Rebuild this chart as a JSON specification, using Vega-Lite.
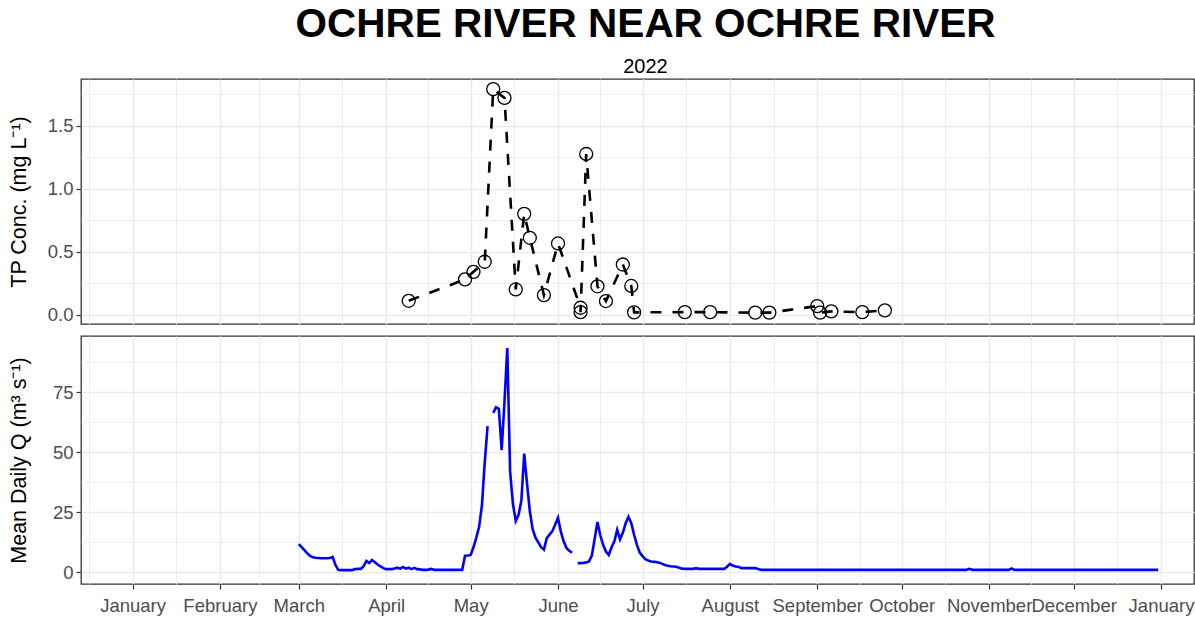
{
  "$schema": "https://vega.github.io/schema/vega-lite/v6.json",
  "background": "white",
  "padding": {"left": 7, "top": 4, "right": 0, "bottom": 0},
  "title": {
    "text": "OCHRE RIVER NEAR OCHRE RIVER",
    "subtitle": "2022",
    "font": "Liberation Sans",
    "fontSize": 40.5,
    "fontWeight": "bold",
    "color": "#000000",
    "subtitleFont": "Liberation Sans",
    "subtitleFontSize": 20,
    "subtitleColor": "#000000",
    "subtitlePadding": 12,
    "anchor": "middle",
    "frame": "group",
    "dx": 8,
    "offset": 1
  },
  "config": {
    "font": "Liberation Sans",
    "view": {"stroke": "#333333", "strokeWidth": 1.3},
    "axis": {
      "labelFont": "Liberation Sans",
      "labelFontSize": 18.5,
      "labelColor": "#4D4D4D",
      "titleFont": "Liberation Sans",
      "titleFontSize": 21.5,
      "titleFontWeight": "normal",
      "titleColor": "#000000",
      "tickColor": "#333333",
      "tickWidth": 1.2,
      "tickSize": 5,
      "domain": false,
      "gridColor": "#EBEBEB",
      "labelOverlap": false,
      "labelFlush": false,
      "labelBound": false
    }
  },
  "datasets": {
    "tp": [
      {"date": "2022-04-09T00:00", "tp": 0.11},
      {"date": "2022-04-29T00:00", "tp": 0.28},
      {"date": "2022-05-02T00:00", "tp": 0.34},
      {"date": "2022-05-06T00:00", "tp": 0.42},
      {"date": "2022-05-09T00:00", "tp": 1.79},
      {"date": "2022-05-13T00:00", "tp": 1.72},
      {"date": "2022-05-17T00:00", "tp": 0.2},
      {"date": "2022-05-20T00:00", "tp": 0.8},
      {"date": "2022-05-22T00:00", "tp": 0.61},
      {"date": "2022-05-27T00:00", "tp": 0.155},
      {"date": "2022-06-01T00:00", "tp": 0.565},
      {"date": "2022-06-09T00:00", "tp": 0.055},
      {"date": "2022-06-09T00:00", "tp": 0.02},
      {"date": "2022-06-11T00:00", "tp": 1.275},
      {"date": "2022-06-15T00:00", "tp": 0.225},
      {"date": "2022-06-18T00:00", "tp": 0.108},
      {"date": "2022-06-24T00:00", "tp": 0.398},
      {"date": "2022-06-27T00:00", "tp": 0.228},
      {"date": "2022-06-28T00:00", "tp": 0.018},
      {"date": "2022-07-16T00:00", "tp": 0.02},
      {"date": "2022-07-25T00:00", "tp": 0.02},
      {"date": "2022-08-10T00:00", "tp": 0.016},
      {"date": "2022-08-15T00:00", "tp": 0.016},
      {"date": "2022-09-01T00:00", "tp": 0.068},
      {"date": "2022-09-02T00:00", "tp": 0.016},
      {"date": "2022-09-06T00:00", "tp": 0.026},
      {"date": "2022-09-17T00:00", "tp": 0.02},
      {"date": "2022-09-25T00:00", "tp": 0.034}
    ],
    "q": [
      {"date": "2022-03-01T00:00", "q": 11.8, "seg": 1},
      {"date": "2022-03-02T00:00", "q": 10.6, "seg": 1},
      {"date": "2022-03-03T00:00", "q": 9.3, "seg": 1},
      {"date": "2022-03-04T00:00", "q": 8.0, "seg": 1},
      {"date": "2022-03-05T00:00", "q": 6.9, "seg": 1},
      {"date": "2022-03-06T00:00", "q": 6.3, "seg": 1},
      {"date": "2022-03-07T00:00", "q": 6.1, "seg": 1},
      {"date": "2022-03-08T00:00", "q": 6.0, "seg": 1},
      {"date": "2022-03-09T00:00", "q": 5.9, "seg": 1},
      {"date": "2022-03-10T00:00", "q": 5.9, "seg": 1},
      {"date": "2022-03-11T00:00", "q": 5.9, "seg": 1},
      {"date": "2022-03-12T00:00", "q": 6.0, "seg": 1},
      {"date": "2022-03-13T00:00", "q": 6.5, "seg": 1},
      {"date": "2022-03-14T00:00", "q": 3.2, "seg": 1},
      {"date": "2022-03-15T00:00", "q": 1.1, "seg": 1},
      {"date": "2022-03-16T00:00", "q": 1.0, "seg": 1},
      {"date": "2022-03-17T00:00", "q": 1.0, "seg": 1},
      {"date": "2022-03-18T00:00", "q": 1.0, "seg": 1},
      {"date": "2022-03-19T00:00", "q": 1.0, "seg": 1},
      {"date": "2022-03-20T00:00", "q": 1.0, "seg": 1},
      {"date": "2022-03-21T00:00", "q": 1.4, "seg": 1},
      {"date": "2022-03-22T00:00", "q": 1.5, "seg": 1},
      {"date": "2022-03-23T00:00", "q": 1.5, "seg": 1},
      {"date": "2022-03-24T00:00", "q": 2.6, "seg": 1},
      {"date": "2022-03-25T00:00", "q": 4.8, "seg": 1},
      {"date": "2022-03-26T00:00", "q": 3.9, "seg": 1},
      {"date": "2022-03-27T00:00", "q": 5.2, "seg": 1},
      {"date": "2022-03-28T00:00", "q": 4.3, "seg": 1},
      {"date": "2022-03-29T00:00", "q": 3.3, "seg": 1},
      {"date": "2022-03-30T00:00", "q": 2.5, "seg": 1},
      {"date": "2022-03-31T00:00", "q": 1.8, "seg": 1},
      {"date": "2022-04-01T00:00", "q": 1.4, "seg": 1},
      {"date": "2022-04-02T00:00", "q": 1.4, "seg": 1},
      {"date": "2022-04-03T00:00", "q": 1.4, "seg": 1},
      {"date": "2022-04-04T00:00", "q": 1.7, "seg": 1},
      {"date": "2022-04-05T00:00", "q": 2.0, "seg": 1},
      {"date": "2022-04-06T00:00", "q": 1.6, "seg": 1},
      {"date": "2022-04-07T00:00", "q": 2.3, "seg": 1},
      {"date": "2022-04-08T00:00", "q": 1.6, "seg": 1},
      {"date": "2022-04-09T00:00", "q": 2.0, "seg": 1},
      {"date": "2022-04-10T00:00", "q": 1.4, "seg": 1},
      {"date": "2022-04-11T00:00", "q": 1.9, "seg": 1},
      {"date": "2022-04-12T00:00", "q": 1.4, "seg": 1},
      {"date": "2022-04-13T00:00", "q": 1.3, "seg": 1},
      {"date": "2022-04-14T00:00", "q": 1.1, "seg": 1},
      {"date": "2022-04-15T00:00", "q": 1.1, "seg": 1},
      {"date": "2022-04-16T00:00", "q": 1.2, "seg": 1},
      {"date": "2022-04-17T00:00", "q": 1.5, "seg": 1},
      {"date": "2022-04-18T00:00", "q": 1.1, "seg": 1},
      {"date": "2022-04-19T00:00", "q": 1.1, "seg": 1},
      {"date": "2022-04-20T00:00", "q": 1.1, "seg": 1},
      {"date": "2022-04-21T00:00", "q": 1.1, "seg": 1},
      {"date": "2022-04-22T00:00", "q": 1.1, "seg": 1},
      {"date": "2022-04-23T00:00", "q": 1.1, "seg": 1},
      {"date": "2022-04-24T00:00", "q": 1.1, "seg": 1},
      {"date": "2022-04-25T00:00", "q": 1.1, "seg": 1},
      {"date": "2022-04-26T00:00", "q": 1.1, "seg": 1},
      {"date": "2022-04-27T00:00", "q": 1.1, "seg": 1},
      {"date": "2022-04-28T00:00", "q": 1.1, "seg": 1},
      {"date": "2022-04-29T00:00", "q": 7.0, "seg": 1},
      {"date": "2022-04-30T00:00", "q": 7.1, "seg": 1},
      {"date": "2022-05-01T00:00", "q": 7.3, "seg": 1},
      {"date": "2022-05-02T00:00", "q": 10.5, "seg": 1},
      {"date": "2022-05-03T00:00", "q": 14.5, "seg": 1},
      {"date": "2022-05-04T00:00", "q": 19.0, "seg": 1},
      {"date": "2022-05-05T00:00", "q": 28.0, "seg": 1},
      {"date": "2022-05-06T00:00", "q": 46.0, "seg": 1},
      {"date": "2022-05-07T00:00", "q": 61.0, "seg": 1},
      {"date": "2022-05-09T00:00", "q": 66.5, "seg": 2},
      {"date": "2022-05-10T00:00", "q": 68.8, "seg": 2},
      {"date": "2022-05-11T00:00", "q": 68.2, "seg": 2},
      {"date": "2022-05-12T00:00", "q": 51.0, "seg": 2},
      {"date": "2022-05-13T00:00", "q": 71.0, "seg": 2},
      {"date": "2022-05-14T00:00", "q": 93.5, "seg": 2},
      {"date": "2022-05-15T00:00", "q": 42.0, "seg": 2},
      {"date": "2022-05-16T00:00", "q": 28.5, "seg": 2},
      {"date": "2022-05-17T00:00", "q": 21.5, "seg": 2},
      {"date": "2022-05-18T00:00", "q": 24.0, "seg": 2},
      {"date": "2022-05-19T00:00", "q": 30.0, "seg": 2},
      {"date": "2022-05-20T00:00", "q": 49.5, "seg": 2},
      {"date": "2022-05-21T00:00", "q": 37.0, "seg": 2},
      {"date": "2022-05-22T00:00", "q": 25.5, "seg": 2},
      {"date": "2022-05-23T00:00", "q": 18.0, "seg": 2},
      {"date": "2022-05-24T00:00", "q": 14.5, "seg": 2},
      {"date": "2022-05-25T00:00", "q": 12.5, "seg": 2},
      {"date": "2022-05-26T00:00", "q": 10.5, "seg": 2},
      {"date": "2022-05-27T00:00", "q": 9.5, "seg": 2},
      {"date": "2022-05-28T00:00", "q": 14.3, "seg": 2},
      {"date": "2022-05-29T00:00", "q": 15.8, "seg": 2},
      {"date": "2022-05-30T00:00", "q": 17.2, "seg": 2},
      {"date": "2022-05-31T00:00", "q": 20.0, "seg": 2},
      {"date": "2022-06-01T00:00", "q": 22.8, "seg": 2},
      {"date": "2022-06-02T00:00", "q": 17.0, "seg": 2},
      {"date": "2022-06-03T00:00", "q": 13.0, "seg": 2},
      {"date": "2022-06-04T00:00", "q": 10.2, "seg": 2},
      {"date": "2022-06-05T00:00", "q": 9.0, "seg": 2},
      {"date": "2022-06-06T00:00", "q": 8.2, "seg": 2},
      {"date": "2022-06-08T00:00", "q": 3.9, "seg": 3},
      {"date": "2022-06-09T00:00", "q": 3.9, "seg": 3},
      {"date": "2022-06-10T00:00", "q": 4.0, "seg": 3},
      {"date": "2022-06-11T00:00", "q": 4.2, "seg": 3},
      {"date": "2022-06-12T00:00", "q": 4.6, "seg": 3},
      {"date": "2022-06-13T00:00", "q": 7.0, "seg": 3},
      {"date": "2022-06-14T00:00", "q": 14.0, "seg": 3},
      {"date": "2022-06-15T00:00", "q": 21.0, "seg": 3},
      {"date": "2022-06-16T00:00", "q": 15.5, "seg": 3},
      {"date": "2022-06-17T00:00", "q": 11.5, "seg": 3},
      {"date": "2022-06-18T00:00", "q": 8.7, "seg": 3},
      {"date": "2022-06-19T00:00", "q": 7.3, "seg": 3},
      {"date": "2022-06-20T00:00", "q": 10.5, "seg": 3},
      {"date": "2022-06-21T00:00", "q": 13.0, "seg": 3},
      {"date": "2022-06-22T00:00", "q": 17.8, "seg": 3},
      {"date": "2022-06-23T00:00", "q": 13.8, "seg": 3},
      {"date": "2022-06-24T00:00", "q": 16.5, "seg": 3},
      {"date": "2022-06-25T00:00", "q": 20.5, "seg": 3},
      {"date": "2022-06-26T00:00", "q": 23.2, "seg": 3},
      {"date": "2022-06-27T00:00", "q": 20.5, "seg": 3},
      {"date": "2022-06-28T00:00", "q": 15.7, "seg": 3},
      {"date": "2022-06-29T00:00", "q": 11.5, "seg": 3},
      {"date": "2022-06-30T00:00", "q": 8.3, "seg": 3},
      {"date": "2022-07-01T00:00", "q": 6.8, "seg": 3},
      {"date": "2022-07-02T00:00", "q": 5.5, "seg": 3},
      {"date": "2022-07-03T00:00", "q": 5.0, "seg": 3},
      {"date": "2022-07-04T00:00", "q": 4.6, "seg": 3},
      {"date": "2022-07-05T00:00", "q": 4.5, "seg": 3},
      {"date": "2022-07-06T00:00", "q": 4.3, "seg": 3},
      {"date": "2022-07-07T00:00", "q": 4.1, "seg": 3},
      {"date": "2022-07-08T00:00", "q": 3.6, "seg": 3},
      {"date": "2022-07-09T00:00", "q": 3.1, "seg": 3},
      {"date": "2022-07-10T00:00", "q": 2.8, "seg": 3},
      {"date": "2022-07-11T00:00", "q": 2.6, "seg": 3},
      {"date": "2022-07-12T00:00", "q": 2.5, "seg": 3},
      {"date": "2022-07-13T00:00", "q": 2.4, "seg": 3},
      {"date": "2022-07-14T00:00", "q": 2.0, "seg": 3},
      {"date": "2022-07-15T00:00", "q": 1.6, "seg": 3},
      {"date": "2022-07-16T00:00", "q": 1.5, "seg": 3},
      {"date": "2022-07-17T00:00", "q": 1.5, "seg": 3},
      {"date": "2022-07-18T00:00", "q": 1.5, "seg": 3},
      {"date": "2022-07-19T00:00", "q": 1.5, "seg": 3},
      {"date": "2022-07-20T00:00", "q": 1.8, "seg": 3},
      {"date": "2022-07-21T00:00", "q": 1.5, "seg": 3},
      {"date": "2022-07-22T00:00", "q": 1.5, "seg": 3},
      {"date": "2022-07-23T00:00", "q": 1.5, "seg": 3},
      {"date": "2022-07-24T00:00", "q": 1.5, "seg": 3},
      {"date": "2022-07-25T00:00", "q": 1.5, "seg": 3},
      {"date": "2022-07-26T00:00", "q": 1.5, "seg": 3},
      {"date": "2022-07-27T00:00", "q": 1.5, "seg": 3},
      {"date": "2022-07-28T00:00", "q": 1.5, "seg": 3},
      {"date": "2022-07-29T00:00", "q": 1.5, "seg": 3},
      {"date": "2022-07-30T00:00", "q": 1.5, "seg": 3},
      {"date": "2022-07-31T00:00", "q": 2.4, "seg": 3},
      {"date": "2022-08-01T00:00", "q": 3.6, "seg": 3},
      {"date": "2022-08-02T00:00", "q": 2.9, "seg": 3},
      {"date": "2022-08-03T00:00", "q": 2.5, "seg": 3},
      {"date": "2022-08-04T00:00", "q": 2.4, "seg": 3},
      {"date": "2022-08-05T00:00", "q": 1.8, "seg": 3},
      {"date": "2022-08-06T00:00", "q": 1.8, "seg": 3},
      {"date": "2022-08-07T00:00", "q": 1.8, "seg": 3},
      {"date": "2022-08-08T00:00", "q": 1.8, "seg": 3},
      {"date": "2022-08-09T00:00", "q": 1.8, "seg": 3},
      {"date": "2022-08-10T00:00", "q": 1.8, "seg": 3},
      {"date": "2022-08-11T00:00", "q": 1.5, "seg": 3},
      {"date": "2022-08-12T00:00", "q": 1.1, "seg": 3},
      {"date": "2022-09-01T00:00", "q": 1.1, "seg": 3},
      {"date": "2022-10-01T00:00", "q": 1.1, "seg": 3},
      {"date": "2022-10-24T00:00", "q": 1.1, "seg": 3},
      {"date": "2022-10-25T00:00", "q": 1.5, "seg": 3},
      {"date": "2022-10-26T00:00", "q": 1.1, "seg": 3},
      {"date": "2022-11-08T00:00", "q": 1.1, "seg": 3},
      {"date": "2022-11-09T00:00", "q": 1.7, "seg": 3},
      {"date": "2022-11-10T00:00", "q": 1.1, "seg": 3},
      {"date": "2022-12-01T00:00", "q": 1.1, "seg": 3},
      {"date": "2022-12-31T00:00", "q": 1.1, "seg": 3}
    ]
  },
  "spacing": 10,
  "vconcat": [
    {
      "width": 1113,
      "height": 245,
      "data": {"name": "tp"},
      "encoding": {
        "x": {
          "field": "date",
          "type": "temporal",
          "scale": {"domain": [{"year": 2021, "month": 12, "date": 13, "hours": 17}, {"year": 2023, "month": 1, "date": 12, "hours": 17}]},
          "axis": {
            "title": null,
            "labels": false,
            "ticks": false,
            "grid": true,
            "values": [
              {"year": 2021, "month": 12, "date": 16, "hours": 12},
              {"year": 2022, "month": 1, "date": 1},
              {"year": 2022, "month": 1, "date": 16, "hours": 12},
              {"year": 2022, "month": 2, "date": 1},
              {"year": 2022, "month": 2, "date": 15},
              {"year": 2022, "month": 3, "date": 1},
              {"year": 2022, "month": 3, "date": 16, "hours": 12},
              {"year": 2022, "month": 4, "date": 1},
              {"year": 2022, "month": 4, "date": 16},
              {"year": 2022, "month": 5, "date": 1},
              {"year": 2022, "month": 5, "date": 16, "hours": 12},
              {"year": 2022, "month": 6, "date": 1},
              {"year": 2022, "month": 6, "date": 16},
              {"year": 2022, "month": 7, "date": 1},
              {"year": 2022, "month": 7, "date": 16, "hours": 12},
              {"year": 2022, "month": 8, "date": 1},
              {"year": 2022, "month": 8, "date": 16, "hours": 12},
              {"year": 2022, "month": 9, "date": 1},
              {"year": 2022, "month": 9, "date": 16},
              {"year": 2022, "month": 10, "date": 1},
              {"year": 2022, "month": 10, "date": 16, "hours": 12},
              {"year": 2022, "month": 11, "date": 1},
              {"year": 2022, "month": 11, "date": 16},
              {"year": 2022, "month": 12, "date": 1},
              {"year": 2022, "month": 12, "date": 16, "hours": 12},
              {"year": 2023, "month": 1, "date": 1}
            ],
            "gridWidth": {"condition": {"test": "date(datum.value) == 1", "value": 1.6}, "value": 0.9}
          }
        },
        "y": {
          "field": "tp",
          "type": "quantitative",
          "scale": {"domain": [-0.074, 1.87], "nice": false, "zero": false},
          "axis": {
            "title": "TP Conc. (mg L⁻¹)",
            "titleX": -62,
            "titleBaseline": "middle",
            "values": [0, 0.25, 0.5, 0.75, 1, 1.25, 1.5, 1.75],
            "labelExpr": "datum.value % 0.5 == 0 ? format(datum.value, '.1f') : ''",
            "labelPadding": 3,
            "tickOpacity": {"condition": {"test": "datum.value % 0.5 == 0", "value": 1}, "value": 0},
            "gridWidth": {"condition": {"test": "datum.value % 0.5 == 0", "value": 1.6}, "value": 0.9}
          }
        }
      },
      "layer": [
        {
          "mark": {"type": "line", "color": "#000000", "strokeWidth": 2.6, "strokeDash": [11, 11]}
        },
        {
          "mark": {"type": "point", "shape": "circle", "filled": false, "color": "#000000", "strokeWidth": 1.3, "size": 169, "opacity": 1}
        }
      ]
    },
    {
      "width": 1113,
      "height": 248,
      "data": {"name": "q"},
      "mark": {"type": "line", "color": "#0000FF", "strokeWidth": 2.6},
      "encoding": {
        "x": {
          "field": "date",
          "type": "temporal",
          "scale": {"domain": [{"year": 2021, "month": 12, "date": 13, "hours": 17}, {"year": 2023, "month": 1, "date": 12, "hours": 17}]},
          "axis": {
            "title": null,
            "grid": true,
            "values": [
              {"year": 2021, "month": 12, "date": 16, "hours": 12},
              {"year": 2022, "month": 1, "date": 1},
              {"year": 2022, "month": 1, "date": 16, "hours": 12},
              {"year": 2022, "month": 2, "date": 1},
              {"year": 2022, "month": 2, "date": 15},
              {"year": 2022, "month": 3, "date": 1},
              {"year": 2022, "month": 3, "date": 16, "hours": 12},
              {"year": 2022, "month": 4, "date": 1},
              {"year": 2022, "month": 4, "date": 16},
              {"year": 2022, "month": 5, "date": 1},
              {"year": 2022, "month": 5, "date": 16, "hours": 12},
              {"year": 2022, "month": 6, "date": 1},
              {"year": 2022, "month": 6, "date": 16},
              {"year": 2022, "month": 7, "date": 1},
              {"year": 2022, "month": 7, "date": 16, "hours": 12},
              {"year": 2022, "month": 8, "date": 1},
              {"year": 2022, "month": 8, "date": 16, "hours": 12},
              {"year": 2022, "month": 9, "date": 1},
              {"year": 2022, "month": 9, "date": 16},
              {"year": 2022, "month": 10, "date": 1},
              {"year": 2022, "month": 10, "date": 16, "hours": 12},
              {"year": 2022, "month": 11, "date": 1},
              {"year": 2022, "month": 11, "date": 16},
              {"year": 2022, "month": 12, "date": 1},
              {"year": 2022, "month": 12, "date": 16, "hours": 12},
              {"year": 2023, "month": 1, "date": 1}
            ],
            "labelExpr": "date(datum.value) == 1 ? timeFormat(datum.value, '%B') : ''",
            "labelPadding": 7,
            "tickOpacity": {"condition": {"test": "date(datum.value) == 1", "value": 1}, "value": 0},
            "gridWidth": {"condition": {"test": "date(datum.value) == 1", "value": 1.6}, "value": 0.9}
          }
        },
        "y": {
          "field": "q",
          "type": "quantitative",
          "scale": {"domain": [-4.8, 98.5], "nice": false, "zero": false},
          "axis": {
            "title": "Mean Daily Q (m³ s⁻¹)",
            "titleX": -62,
            "titleBaseline": "middle",
            "values": [0, 12.5, 25, 37.5, 50, 62.5, 75, 87.5],
            "labelExpr": "datum.value % 25 == 0 ? format(datum.value, 'd') : ''",
            "labelPadding": 3,
            "tickOpacity": {"condition": {"test": "datum.value % 25 == 0", "value": 1}, "value": 0},
            "gridWidth": {"condition": {"test": "datum.value % 25 == 0", "value": 1.6}, "value": 0.9}
          }
        },
        "detail": {"field": "seg", "type": "nominal"}
      }
    }
  ]
}
